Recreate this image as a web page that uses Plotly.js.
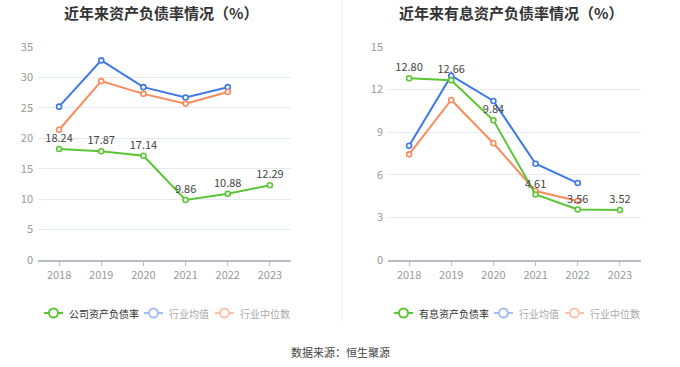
<!DOCTYPE html>
<html>
<head>
<meta charset="utf-8">
<script src="https://cdn.plot.ly/plotly-3.0.1.min.js"></script>
<style>html,body{margin:0;padding:0;background:#fff;}#chart{width:680px;height:367px;}</style>
</head>
<body>
<div id="chart"></div>
<script>
const years = ['2018','2019','2020','2021','2022','2023'];
// Left chart: asset-liability ratio
const companyDebt = [18.24, 17.87, 17.14, 9.86, 10.88, 12.29];
const industryMeanDebt = [25.2, 32.8, 28.4, 26.7, 28.4, null];
const industryMedianDebt = [21.4, 29.4, 27.3, 25.7, 27.6, null];
// Right chart: interest-bearing asset-liability ratio
const companyIntDebt = [12.80, 12.66, 9.84, 4.61, 3.56, 3.52];
const industryMeanInt = [8.05, 12.98, 11.2, 6.78, 5.42, null];
const industryMedianInt = [7.44, 11.27, 8.22, 4.86, 4.15, null];

const leftTitle = '近年来资产负债率情况（%）';
const rightTitle = '近年来有息资产负债率情况（%）';
const leftNames = ['公司资产负债率', '行业均值', '行业中位数'];
const rightNames = ['有息资产负债率', '行业均值', '行业中位数'];
const sourceText = '数据来源：恒生聚源';

const GREEN = '#5ac634', BLUE = '#3f78e8', ORANGE = '#fb8a5c';
const FONT = 'Noto Sans CJK SC, sans-serif';
const W = 680, H = 367;

function line(x, y, color, xa, ya, withText) {
  const t = {
    x: x, y: y, xaxis: xa, yaxis: ya, type: 'scatter', mode: 'lines+markers',
    line: {color: color, width: 2},
    marker: {symbol: 'circle', size: 5, color: '#fff', line: {color: color, width: 1.6}},
    showlegend: false, hoverinfo: 'skip', cliponaxis: false
  };
  if (withText) {
    t.mode = 'lines+markers+text';
    t.text = y.map(v => v.toFixed(2));
    t.textposition = 'top center';
    t.textfont = {size: 11, color: '#444', family: FONT};
  }
  return t;
}

const data = [
  line(years, industryMeanDebt, BLUE, 'x', 'y'),
  line(years, industryMedianDebt, ORANGE, 'x', 'y'),
  line(years, companyDebt, GREEN, 'x', 'y', true),
  line(years, industryMeanInt, BLUE, 'x2', 'y2'),
  line(years, industryMedianInt, ORANGE, 'x2', 'y2'),
  line(years, companyIntDebt, GREEN, 'x2', 'y2', true)
];

const yDom = [(H - 260) / H, (H - 47) / H];
const xAxisCommon = {
  type: 'category', range: [-0.5, 5.5], showgrid: false, zeroline: false,
  showline: true, linecolor: '#b8bcc4', linewidth: 1.5,
  ticks: 'outside', ticklen: 4, tickcolor: '#b8bcc4',
  tickfont: {size: 11, color: '#999', family: FONT}, fixedrange: true
};
const yAxisCommon = {
  showgrid: true, gridcolor: '#e4e9f2', gridwidth: 1, zeroline: false, showline: false,
  tickfont: {size: 11, color: '#999', family: FONT}, ticks: '', ticklabelstandoff: 4, fixedrange: true
};

// Custom legends (pixel positions converted to paper coords)
const shapes = [
  {type: 'line', xref: 'paper', yref: 'paper', x0: 342 / W, x1: 342 / W, y0: (H - 322) / H, y1: 1,
   line: {color: '#eeeeee', width: 1}}
];
const annotations = [
  {text: '<b>' + leftTitle + '</b>', xref: 'paper', yref: 'paper', x: 161 / W, y: (H - 12) / H,
   xanchor: 'center', yanchor: 'middle', showarrow: false, font: {size: 15, color: '#333', family: FONT}},
  {text: '<b>' + rightTitle + '</b>', xref: 'paper', yref: 'paper', x: 511 / W, y: (H - 12) / H,
   xanchor: 'center', yanchor: 'middle', showarrow: false, font: {size: 15, color: '#333', family: FONT}},
  {text: sourceText, xref: 'paper', yref: 'paper', x: 340 / W, y: (H - 352) / H,
   xanchor: 'center', yanchor: 'middle', showarrow: false, font: {size: 11, color: '#444', family: FONT}}
];
function addLegend(names, startX) {
  const offsets = [0, 100, 171];
  const colors = [GREEN, '#a4bff4', '#fbc3ab'];
  const textColors = ['#333', '#aaa', '#aaa'];
  const yc = 313;
  names.forEach((n, i) => {
    const x0 = startX + offsets[i];
    shapes.push({type: 'line', xref: 'paper', yref: 'paper', x0: x0 / W, x1: (x0 + 19) / W,
      y0: (H - yc) / H, y1: (H - yc) / H, line: {color: colors[i], width: 2}});
    shapes.push({type: 'circle', xref: 'paper', yref: 'paper', x0: (x0 + 9.5 - 4.5) / W, x1: (x0 + 9.5 + 4.5) / W,
      y0: (H - yc - 4.5) / H, y1: (H - yc + 4.5) / H, fillcolor: '#fff', line: {color: colors[i], width: 2}});
    annotations.push({text: n, xref: 'paper', yref: 'paper', x: (x0 + 23) / W, y: (H - yc) / H,
      xanchor: 'left', yanchor: 'middle', showarrow: false, font: {size: 10, color: textColors[i], family: FONT}});
  });
}
addLegend(leftNames, 44);
addLegend(rightNames, 394);

const layout = {
  width: W, height: H,
  margin: {l: 0, r: 0, t: 0, b: 0},
  paper_bgcolor: '#fff', plot_bgcolor: '#fff',
  font: {family: FONT},
  showlegend: false,
  xaxis: Object.assign({}, xAxisCommon, {domain: [38 / W, 291 / W], anchor: 'y'}),
  yaxis: Object.assign({}, yAxisCommon, {domain: yDom, range: [0, 35], dtick: 5, anchor: 'x'}),
  xaxis2: Object.assign({}, xAxisCommon, {domain: [388 / W, 641 / W], anchor: 'y2'}),
  yaxis2: Object.assign({}, yAxisCommon, {domain: yDom, range: [0, 15], dtick: 3, anchor: 'x2'}),
  shapes: shapes,
  annotations: annotations
};

Plotly.newPlot('chart', data, layout, {displayModeBar: false, staticPlot: true});
</script>
</body>
</html>
